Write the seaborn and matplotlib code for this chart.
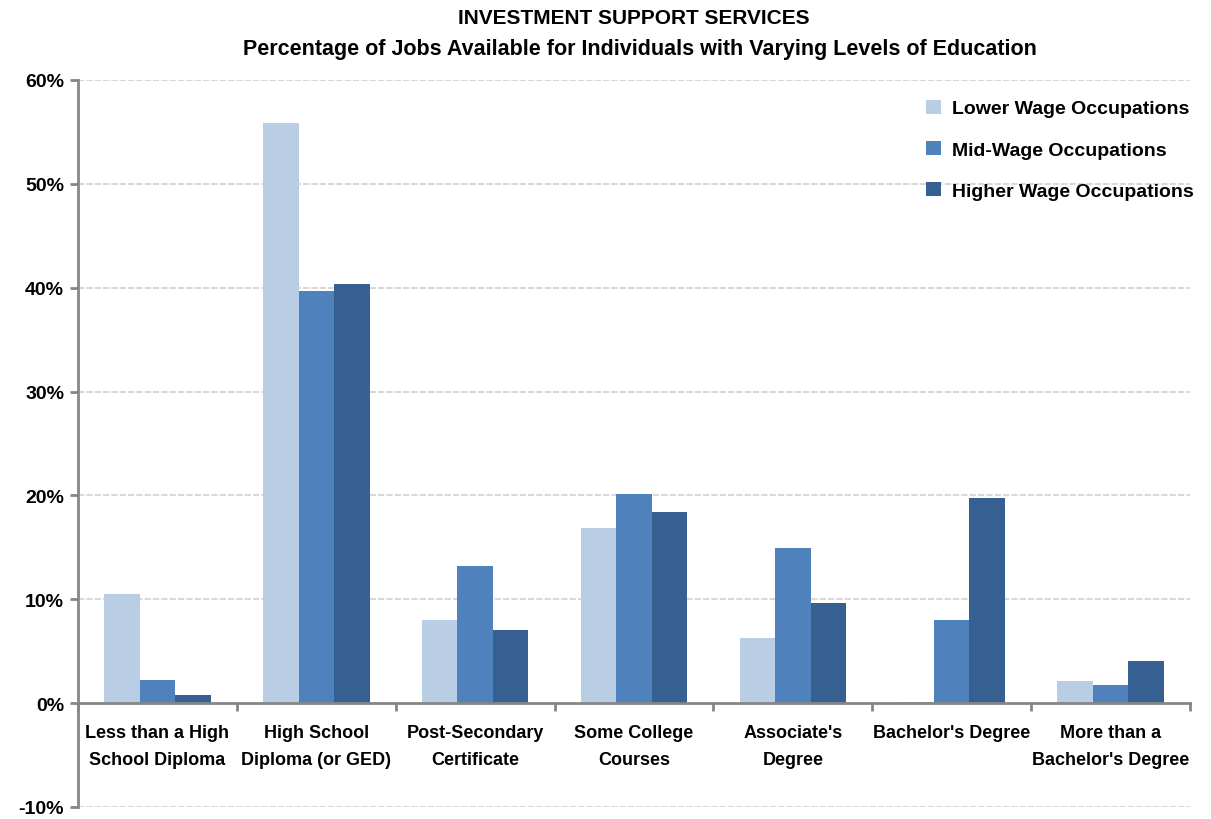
import numpy as np
import pandas as pd
import matplotlib
matplotlib.use("Agg")
import matplotlib.pyplot as plt
import seaborn as sns

# Education levels shown along the x axis
categories = [
    "Less than a High\nSchool Diploma",
    "High School\nDiploma (or GED)",
    "Post-Secondary\nCertificate",
    "Some College\nCourses",
    "Associate's\nDegree",
    "Bachelor's Degree",
    "More than a\nBachelor's Degree",
]

# Share of jobs (%) by wage tier
series_names = ["Lower Wage Occupations", "Mid-Wage Occupations", "Higher Wage Occupations"]
lower_wage = [10.5, 55.9, 8.0, 16.9, 6.3, 0.1, 2.1]
mid_wage = [2.2, 39.7, 13.2, 20.1, 14.9, 8.0, 1.7]
higher_wage = [0.8, 40.4, 7.0, 18.4, 9.6, 19.8, 4.1]

y_ticks = [-10, 0, 10, 20, 30, 40, 50, 60]

colors = ["#B9CDE5", "#4F81BD", "#376092"]

sns.set_theme(style="white")
plt.rcParams["font.family"] = ["Liberation Sans", "DejaVu Sans"]
plt.rcParams["font.weight"] = "bold"
plt.rcParams["text.color"] = "black"
plt.rcParams["xtick.labelcolor"] = "black"
plt.rcParams["ytick.labelcolor"] = "black"

df = pd.DataFrame({
    "Education": categories * 3,
    "Series": sum([[s] * len(categories) for s in series_names], []),
    "Share": lower_wage + mid_wage + higher_wage,
})

fig = plt.figure(figsize=(12.11, 8.2), dpi=100)
ax = fig.add_axes([78 / 1211, 1 - 808 / 820, (1190 - 78) / 1211, (808 - 81) / 820])

sns.barplot(data=df, x="Education", y="Share", hue="Series", order=categories,
            hue_order=series_names, palette=colors, width=0.67, linewidth=0,
            saturation=1, errorbar=None, ax=ax, zorder=3)

ax.set_xlim(-0.5, 6.5)
ax.set_ylim(-10, 60)
ax.set_xlabel("")
ax.set_ylabel("")

# Dashed horizontal gridlines
for v in y_ticks:
    if v != 0:
        ax.axhline(v, color="#D9D9D9", linestyle=(0, (3, 1)), linewidth=1.5, zorder=0)

# Axis styling
for side in ["top", "right"]:
    ax.spines[side].set_visible(False)
ax.spines["bottom"].set_position(("data", 0))
for side in ["left", "bottom"]:
    ax.spines[side].set_color("#868686")
    ax.spines[side].set_linewidth(2)
    ax.spines[side].set_zorder(4)

ax.set_yticks(y_ticks)
ax.set_yticklabels([f"{v}%" for v in y_ticks], fontsize=14, fontweight="bold", color="black")
ax.tick_params(axis="y", direction="out", length=6, width=2, color="#868686", pad=4, left=True)

ax.set_xticks(np.arange(-0.5, 7, 1))
ax.set_xticklabels([])
ax.tick_params(axis="x", which="major", direction="out", length=6, width=2,
               color="#868686", bottom=True)
ax.set_xticks(np.arange(len(categories)), minor=True)
ax.set_xticklabels(categories, minor=True, fontsize=13, fontweight="bold",
                   linespacing=1.75, color="black")
ax.tick_params(axis="x", which="minor", length=0, pad=15)

leg = ax.legend(loc="upper right", bbox_to_anchor=(1211 / 1211, 1 - 83 / 820),
                bbox_transform=fig.transFigure, frameon=False, handlelength=0.75,
                handleheight=0.75, handletextpad=0.55, labelspacing=1.2,
                prop={"size": 14, "weight": "bold"})
for t in leg.get_texts():
    t.set_color("black")

fig.text(634 / 1211, 1 - 18 / 820, "INVESTMENT SUPPORT SERVICES",
         ha="center", va="center", fontsize=15, fontweight="bold", color="black")
fig.text(640 / 1211, 1 - 50 / 820,
         "Percentage of Jobs Available for Individuals with Varying Levels of Education",
         ha="center", va="center", fontsize=15.5, fontweight="bold", color="black")

fig.savefig("out.png", dpi=100)
